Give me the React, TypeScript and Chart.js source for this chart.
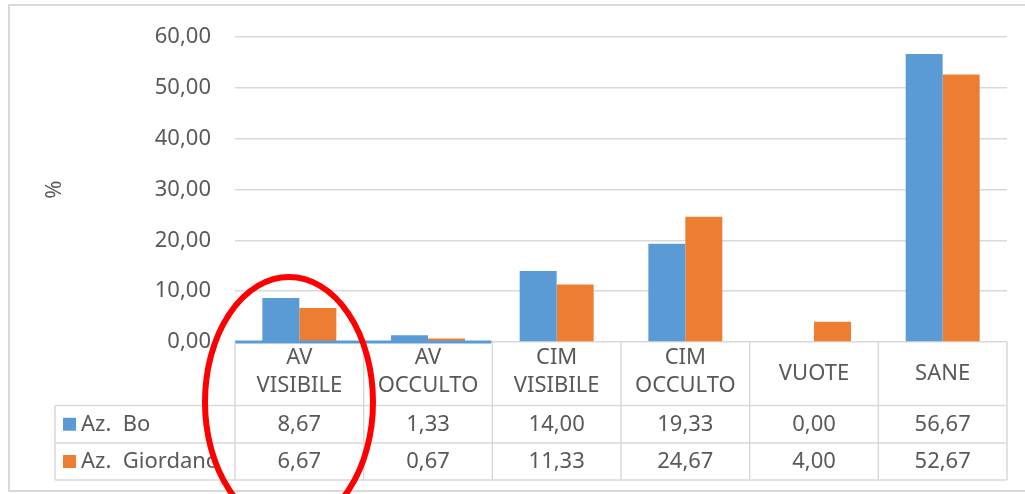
import React, { useEffect, useRef } from "react";
import { Chart, registerables } from "chart.js";

Chart.register(...registerables);

const categories: string[][] = [
  ["AV", "VISIBILE"],
  ["AV", "OCCULTO"],
  ["CIM", "VISIBILE"],
  ["CIM", "OCCULTO"],
  ["VUOTE"],
  ["SANE"],
];
const seriesNames = ["Az.  Bo", "Az.  Giordano"];
const boValues = [8.67, 1.33, 14.0, 19.33, 0.0, 56.67];
const giordanoValues = [6.67, 0.67, 11.33, 24.67, 4.0, 52.67];
const yMin = 0;
const yMax = 60;
const yStep = 10;
const yTitle = "%";

const BLUE = "#5B9BD5";
const ORANGE = "#ED7D31";
const GRID = "#d9d9d9";
const TEXT = "#595959";
const FONT = "'Noto Sans', sans-serif";
const FS = 22;

const fmt = (v: number) => v.toFixed(2).replace(".", ",");

const tablePlugin = {
  id: "tablePlugin",
  beforeDraw(chart: any) {
    const ctx = chart.ctx;
    ctx.save();
    ctx.fillStyle = "#ffffff";
    ctx.fillRect(0, 0, chart.width, chart.height);
    ctx.strokeStyle = GRID;
    ctx.lineWidth = 2;
    ctx.strokeRect(9, 5, chart.width + 20, chart.height - 3 - 5);
    ctx.restore();
  },
  afterDatasetsDraw(chart: any) {
    const ctx = chart.ctx;
    const xs = chart.scales.x;
    const ys = chart.scales.y;
    const n = categories.length;
    const cw = (xs.right - xs.left) / n;
    const y0 = ys.getPixelForValue(0);
    ctx.save();
    ctx.strokeStyle = BLUE;
    ctx.lineWidth = 3;
    ctx.beginPath();
    ctx.moveTo(xs.left, y0);
    ctx.lineTo(xs.left + 2 * cw - 1, y0);
    ctx.stroke();
    ctx.restore();
  },
  afterDraw(chart: any) {
    const ctx = chart.ctx;
    const xs = chart.scales.x;
    const ys = chart.scales.y;
    const n = categories.length;
    const left = xs.left;
    const right = xs.right;
    const cw = (right - left) / n;
    const hTop = ys.getPixelForValue(0);
    const hBot = hTop + 63.5;
    const r1 = hBot + 37.5;
    const r2 = r1 + 37;
    const labelLeft = 55;

    ctx.save();
    ctx.strokeStyle = GRID;
    ctx.lineWidth = 1.5;
    ctx.beginPath();
    for (const y of [hBot, r1, r2]) {
      ctx.moveTo(labelLeft, y);
      ctx.lineTo(right, y);
    }
    for (let i = 0; i <= n; i++) {
      const x = left + i * cw;
      ctx.moveTo(x, hTop);
      ctx.lineTo(x, r2);
    }
    ctx.moveTo(labelLeft, hBot);
    ctx.lineTo(labelLeft, r2);
    ctx.stroke();

    ctx.fillStyle = TEXT;
    ctx.font = `${FS}px ${FONT}`;
    ctx.textAlign = "center";
    ctx.textBaseline = "middle";
    const hc = (hTop + hBot) / 2;
    categories.forEach((lines, i) => {
      const cx = left + (i + 0.5) * cw;
      if (lines.length === 1) {
        ctx.fillText(lines[0], cx, hc);
      } else {
        ctx.fillText(lines[0], cx, hc - 16);
        ctx.fillText(lines[1], cx, hc + 12);
      }
    });
    const rows = [boValues, giordanoValues];
    const rowCenters = [(hBot + r1) / 2, (r1 + r2) / 2];
    const colors = [BLUE, ORANGE];
    rows.forEach((vals, r) => {
      const cy = rowCenters[r];
      vals.forEach((v, i) => {
        const cx = left + (i + 0.5) * cw;
        ctx.fillText(fmt(v), cx, cy);
      });
      ctx.fillStyle = colors[r];
      ctx.fillRect(63, cy - 6.5, 13, 13);
      ctx.fillStyle = TEXT;
      ctx.textAlign = "left";
      ctx.fillText(seriesNames[r], 81, cy);
      ctx.textAlign = "center";
    });

    // red hand-drawn highlight ellipse
    ctx.strokeStyle = "#ff0000";
    ctx.lineWidth = 6;
    ctx.beginPath();
    ctx.ellipse(289, 402, 84, 125, 0, 0, Math.PI * 2);
    ctx.stroke();
    ctx.restore();
  },
};

export default function App() {
  const ref = useRef<HTMLCanvasElement | null>(null);
  useEffect(() => {
    if (!ref.current) return;
    const chart = new Chart(ref.current, {
      type: "bar",
      data: {
        labels: categories.map((c) => c.join(" ")),
        datasets: [
          {
            label: seriesNames[0],
            data: boValues,
            backgroundColor: BLUE,
            categoryPercentage: 0.575,
            barPercentage: 1,
          },
          {
            label: seriesNames[1],
            data: giordanoValues,
            backgroundColor: ORANGE,
            categoryPercentage: 0.575,
            barPercentage: 1,
          },
        ],
      },
      options: {
        responsive: false,
        animation: false,
        layout: { padding: { left: 0, right: 18, top: 35, bottom: 152 } },
        plugins: { legend: { display: false }, tooltip: { enabled: false } },
        scales: {
          x: { display: false },
          y: {
            min: yMin,
            max: yMax,
            ticks: {
              stepSize: yStep,
              padding: 24,
              color: TEXT,
              font: { family: FONT, size: FS },
              callback: (v: any) => fmt(Number(v)),
            },
            grid: { color: GRID, lineWidth: 1.5, drawTicks: false },
            border: { display: false },
            title: {
              display: true,
              text: yTitle,
              color: TEXT,
              font: { family: FONT, size: FS },
              padding: { top: 42, bottom: 0 },
            },
            afterFit: (scale: any) => {
              scale.width = 235;
            },
          },
        },
      },
      plugins: [tablePlugin],
    });
    return () => chart.destroy();
  }, []);
  return (
    <div style={{ position: "absolute", left: 0, top: 0, width: 1025, height: 494 }}>
      <canvas ref={ref} width={1025} height={494} />
    </div>
  );
}
